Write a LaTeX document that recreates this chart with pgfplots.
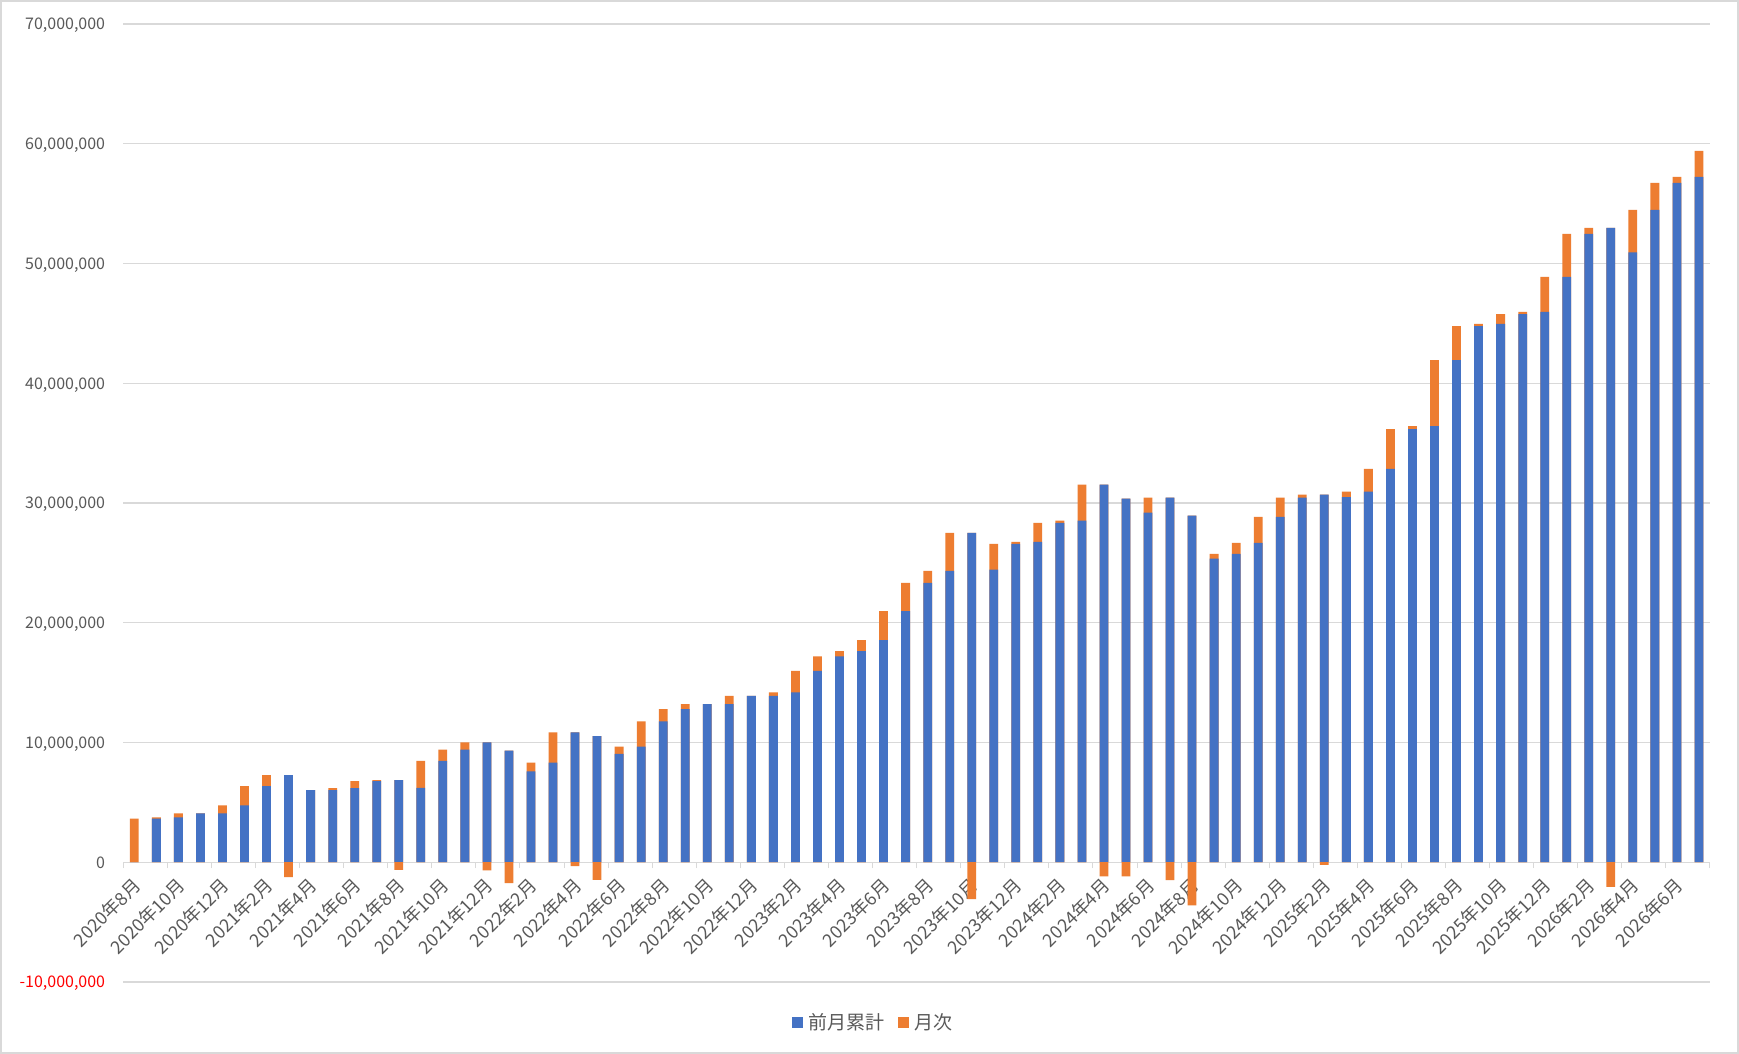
\documentclass[border=0pt]{standalone}
\usepackage{pgfplots}
\pgfplotsset{compat=1.18}
\usepackage{pgfplotstable}
\usepackage{fontspec}
\setmainfont{Noto Sans CJK JP}
\definecolor{cblue}{HTML}{4472C4}
\definecolor{coran}{HTML}{ED7D31}
\definecolor{cgrid}{HTML}{D9D9D9}
\definecolor{ctext}{HTML}{595959}
\definecolor{cred}{HTML}{FF0000}
\pgfplotstableread{
i B O
1 0 3650000
2 3650000 90000
3 3740000 340000
4 4080000 0
5 4080000 670000
6 4750000 1600000
7 6350000 930000
8 7280000 -1250000
9 6030000 0
10 6030000 150000
11 6180000 590000
12 6770000 90000
13 6860000 -640000
14 6220000 2240000
15 8460000 940000
16 9400000 600000
17 10000000 -680000
18 9320000 -1740000
19 7580000 730000
20 8310000 2540000
21 10850000 -320000
22 10530000 -1470000
23 9060000 600000
24 9660000 2110000
25 11770000 1020000
26 12790000 420000
27 13210000 0
28 13210000 680000
29 13890000 0
30 13890000 290000
31 14180000 1800000
32 15980000 1220000
33 17200000 430000
34 17630000 920000
35 18550000 2430000
36 20980000 2340000
37 23320000 1010000
38 24330000 3180000
39 27510000 -3070000
40 24440000 2150000
41 26590000 170000
42 26760000 1590000
43 28350000 170000
44 28520000 3020000
45 31540000 -1170000
46 30370000 -1170000
47 29200000 1250000
48 30450000 -1500000
49 28950000 -3600000
50 25350000 400000
51 25750000 930000
52 26680000 2170000
53 28850000 1600000
54 30450000 250000
55 30700000 -220000
56 30480000 470000
57 30950000 1900000
58 32850000 3310000
59 36160000 250000
60 36410000 5520000
61 41930000 2850000
62 44780000 170000
63 44950000 830000
64 45780000 170000
65 45950000 2930000
66 48880000 3590000
67 52470000 500000
68 52970000 -2050000
69 50920000 3560000
70 54480000 2260000
71 56740000 500000
72 57240000 2170000
}\data
\begin{document}
\begin{tikzpicture}[x=1pt,y=1pt]
\useasboundingbox (0,0) rectangle (1739,1054);
\fill[white] (0,0) rectangle (1739,1054);
\draw[cgrid, line width=2pt] (1,1) rectangle (1738,1053);
\begin{axis}[
  at={(123.3pt,72pt)}, anchor=south west,
  scale only axis, width=1586.7pt, height=958pt,
  xmin=0.5, xmax=72.5,
  ymin=-10000000, ymax=70000000,
  scaled y ticks=false,
  axis x line*=middle, axis y line*=left,
  y axis line style={draw=none},
  x axis line style={-, draw=cgrid, line width=1.3pt},
  ymajorgrids, grid style={cgrid, line width=1.3pt},
  ytick={-10000000,0,10000000,20000000,30000000,40000000,50000000,60000000,70000000},
  yticklabels={{\textcolor{cred}{-10,000,000}},{0},{10,000,000},{20,000,000},{30,000,000},{40,000,000},{50,000,000},{60,000,000},{70,000,000}},
  ytick style={draw=none},
  xtick={1,3,...,71},
  xticklabels={2020年8月,2020年10月,2020年12月,2021年2月,2021年4月,2021年6月,2021年8月,2021年10月,2021年12月,2022年2月,2022年4月,2022年6月,2022年8月,2022年10月,2022年12月,2023年2月,2023年4月,2023年6月,2023年8月,2023年10月,2023年12月,2024年2月,2024年4月,2024年6月,2024年8月,2024年10月,2024年12月,2025年2月,2025年4月,2025年6月,2025年8月,2025年10月,2025年12月,2026年2月,2026年4月,2026年6月},
  minor xtick={0.5,2.5,...,72.5},
  tick align=outside,
  major tick length=0pt, minor tick length=6pt,
  xtick style={draw=cgrid, line width=1pt},
  tick label style={text=ctext},
  yticklabel style={font=\fontsize{16}{19}\selectfont, anchor=base east, inner sep=0pt, xshift=-18pt, yshift=-6pt},
  xticklabel style={font=\fontsize{18}{21}\selectfont, xshift=3pt, yshift=-20pt, rotate=45, anchor=east, inner sep=0pt},
  legend columns=2,
  legend style={at={(0.4725,-0.0418)}, anchor=center, draw=none, fill=none,
    font=\fontsize{19}{22}\selectfont, text=ctext,
    /tikz/every odd column/.append style={column sep=3pt},
    /tikz/every even column/.append style={column sep=12pt}},
  clip=false,
]
\addplot[ybar, bar width=8.8pt, bar shift=0pt, fill=coran, draw=none, forget plot]
  table[x=i, y expr={\thisrow{B}+max(\thisrow{O},0)}] {\data};
\addplot[ybar, bar width=8.8pt, bar shift=0pt, fill=cblue, draw=none,
  legend image code/.code={\fill[cblue] (0pt,-5.5pt) rectangle (11pt,5.5pt);}]
  table[x=i, y=B] {\data};
\addlegendentry{前月累計}
\addplot[ybar, bar width=8.8pt, bar shift=0pt, fill=coran, draw=none,
  legend image code/.code={\fill[coran] (0pt,-5.5pt) rectangle (11pt,5.5pt);}]
  table[x=i, y expr={min(\thisrow{O},0)}] {\data};
\addlegendentry{月次}
\end{axis}
\end{tikzpicture}
\end{document}
